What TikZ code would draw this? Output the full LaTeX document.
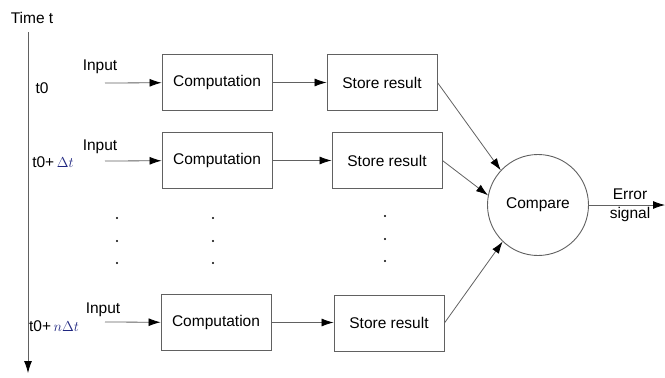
\documentclass[tikz,border=0pt]{standalone}
\usepackage{fontspec}
\setmainfont{Liberation Sans}
\usetikzlibrary{arrows.meta}
\definecolor{linegray}{rgb}{0.38,0.38,0.38}
\definecolor{deltablue}{rgb}{0.12,0.15,0.5}
\begin{document}
\begin{tikzpicture}[x=1pt,y=-1pt,
  box/.style={draw=linegray,line width=0.9pt,minimum width=110pt,minimum height=56pt,inner sep=0pt,font=\fontsize{15.5}{18}\selectfont},
  lbl/.style={font=\fontsize{15.5}{19}\selectfont,inner sep=0pt},
  conn/.style={draw=linegray,line width=0.8pt,-{Latex[length=12pt,width=8pt,color=black]}},
  dotn/.style={circle,fill=black,inner sep=0pt,minimum size=2.4pt}]
\useasboundingbox (0,0) rectangle (665,378);
% timeline
\node[lbl] (time) at (32,18) {Time t};
\coordinate (tl0) at (28,32);
\coordinate (tl1) at (28,373);
\draw[conn] (tl0) -- (tl1);
% time labels
\node[lbl] (l1) at (42,88) {t0};
\node[lbl] (l2) at (53,162) {t0+\,{\color{deltablue}$\Delta t$}};
\node[lbl] (l3) at (54,326) {t0+\,{\color{deltablue}$n\Delta t$}};
% boxes
\node[box] (c1) at (217,82.5) {Computation};
\node[box] (s1) at (382,82.5) {Store result};
\node[box] (c2) at (217,160.5) {Computation};
\node[box] (s2) at (387,160.5) {Store result};
\node[box] (c3) at (216,322.5) {Computation};
\node[box] (s3) at (389,323) {Store result};
\node[draw=linegray,line width=0.9pt,circle,minimum size=101pt,inner sep=0pt,font=\fontsize{15.5}{18}\selectfont] (cmp) at (538,205) {Compare};
% inputs
\coordinate (i1) at (105,83);
\coordinate (i2) at (105,161);
\coordinate (i3) at (105,322);
\node[lbl] (in1) at (100,67) {Input};
\node[lbl] (in2) at (100,147) {Input};
\node[lbl] (in3) at (103,310) {Input};
\draw[conn] (i1) -- (c1);
\draw[conn] (i2) -- (c2);
\draw[conn] (i3) -- (c3);
\draw[conn] (c1) -- (s1);
\draw[conn] (c2) -- (s2);
\draw[conn] (c3) -- (s3.west |- c3.east);
\draw[conn] (s1.east) -- (cmp.137);
\draw[conn] (s2.east) -- (cmp.169);
\draw[conn] (s3.east) -- (cmp.226);
% error
\coordinate (err) at (665,205);
\draw[conn] (cmp) -- (err);
\node[lbl,align=center] (errl) at (630,205) {Error\\signal};
% dots
\node[dotn] (d11) at (117,218) {};
\node[dotn] (d12) at (117,241) {};
\node[dotn] (d13) at (117,263) {};
\node[dotn] (d21) at (213,218) {};
\node[dotn] (d22) at (213,241) {};
\node[dotn] (d23) at (213,263) {};
\node[dotn] (d31) at (385,216) {};
\node[dotn] (d32) at (385,239) {};
\node[dotn] (d33) at (385,261) {};
\end{tikzpicture}
\end{document}
